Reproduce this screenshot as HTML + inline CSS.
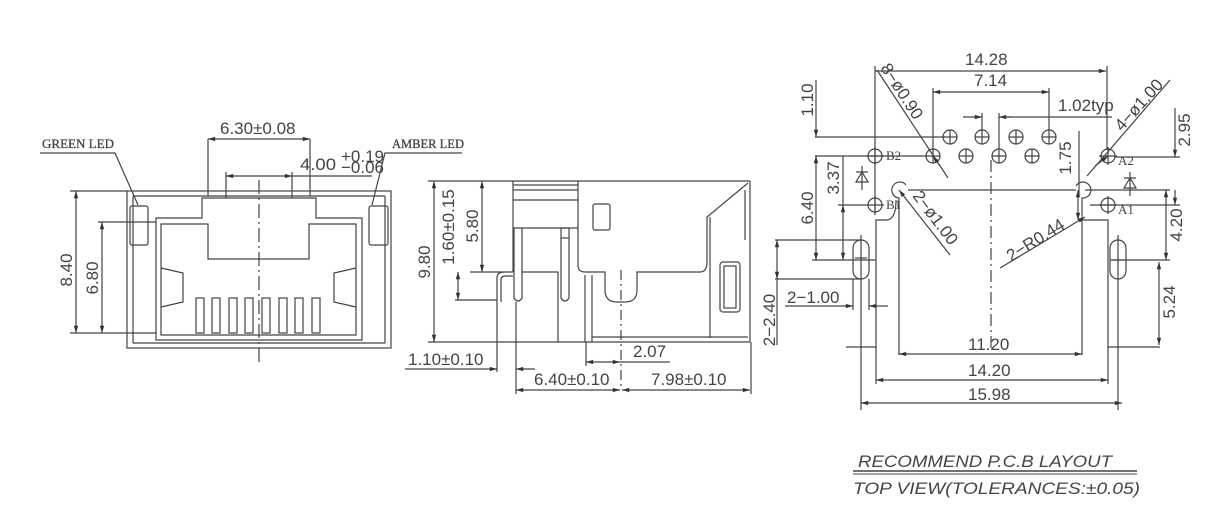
<!DOCTYPE html>
<html><head><meta charset="utf-8"><style>
html,body{margin:0;padding:0;background:#fff;}
svg{display:block;}
text{font-family:"Liberation Sans",sans-serif;fill:#444;font-size:17px;}
.s{font-family:"Liberation Serif",serif;font-size:13px;}
</style></head><body>
<svg width="1206" height="524" viewBox="0 0 1206 524" xmlns="http://www.w3.org/2000/svg">
<defs>
<marker id="a" viewBox="0 0 10 10" refX="10" refY="5" markerWidth="8" markerHeight="6" orient="auto-start-reverse"><path d="M0,2 L10,5 L0,8 z" fill="#333"/></marker>
</defs>
<g stroke="#444" stroke-width="1.2" fill="none">
<rect x="127" y="191" width="264" height="157"/>
<line x1="133" y1="196" x2="385" y2="196"/>
<line x1="133" y1="196" x2="133" y2="343"/><line x1="385" y1="196" x2="385" y2="343"/>
<line x1="133" y1="343" x2="385" y2="343"/>
<path d="M156,340 V218 H202 V198 H316 V218 H362 V340 Z"/>
<path d="M161,335 V224 H208 V259 H309 V224 H356 V335 Z"/>
<rect x="130" y="206" width="18" height="39" rx="2"/>
<rect x="369" y="206" width="19" height="39" rx="2"/>
<path d="M161,268 L183,273 V302 L161,307"/><path d="M356,268 L334,273 V302 L356,307"/>
<g>
<rect x="196" y="298" width="8" height="35"/><rect x="212" y="298" width="8" height="35"/>
<rect x="229" y="298" width="8" height="35"/><rect x="245" y="298" width="8" height="35"/>
<rect x="262" y="298" width="8" height="35"/><rect x="279" y="298" width="8" height="35"/>
<rect x="295" y="298" width="8" height="35"/><rect x="312" y="298" width="8" height="35"/>
</g>
<line x1="259" y1="180" x2="259" y2="362" stroke-dasharray="14,4,2,4"/>
<line x1="208" y1="139" x2="208" y2="196"/><line x1="310" y1="139" x2="310" y2="196"/>
<line x1="208" y1="139" x2="310" y2="139" marker-start="url(#a)" marker-end="url(#a)"/>
<line x1="226" y1="172" x2="226" y2="198"/><line x1="292" y1="172" x2="292" y2="198"/>
<line x1="226" y1="176" x2="292" y2="176" marker-start="url(#a)" marker-end="url(#a)"/>
<line x1="292" y1="176" x2="372" y2="176"/>
<line x1="70" y1="191" x2="127" y2="191"/><line x1="70" y1="333" x2="156" y2="333"/>
<line x1="76" y1="191" x2="76" y2="333" marker-start="url(#a)" marker-end="url(#a)"/>
<line x1="98" y1="222" x2="156" y2="222"/>
<line x1="102" y1="222" x2="102" y2="333" marker-start="url(#a)" marker-end="url(#a)"/>
<polyline points="40,153 115,153 138,205"/>
<polyline points="462,153 385,153 372,205"/>
<line x1="513" y1="181" x2="750" y2="181"/>
<line x1="750" y1="181" x2="750" y2="342"/>
<line x1="558" y1="342" x2="750" y2="342"/>
<line x1="592" y1="337" x2="748" y2="337"/>
<line x1="513" y1="181" x2="513" y2="272"/>
<line x1="578" y1="181" x2="578" y2="265"/>
<line x1="513" y1="185" x2="578" y2="185"/><line x1="513" y1="190" x2="578" y2="190"/>
<line x1="513" y1="200" x2="578" y2="200"/><line x1="513" y1="228" x2="578" y2="228"/>
<path d="M578,265 Q578,272 585,272 H605 V290 Q605,302 617,302 H625 Q637,302 637,290 V272 H700 Q707,272 707,262 V217 L748,183"/>
<line x1="710" y1="217" x2="710" y2="338"/>
<line x1="745" y1="190" x2="745" y2="240"/>
<rect x="593" y="204" width="17" height="26" rx="2"/>
<rect x="720" y="262" width="20" height="50" rx="3"/><rect x="724" y="266" width="12" height="42"/>
<rect x="561" y="228" width="8" height="10"/>
<path d="M561,238 V298 Q565,304 569,298 V238"/>
<path d="M514,228 V298 Q518,304 522,298 V228"/>
<path d="M470,272 H513"/><path d="M522,272 H558 V342"/>
<line x1="585" y1="275" x2="585" y2="342"/><line x1="592" y1="275" x2="592" y2="342"/>
<path d="M497,302 V278 Q497,272 504,272"/><path d="M501,302 V280 Q501,276 506,276 H513"/>
<line x1="621" y1="270" x2="621" y2="390" stroke-dasharray="10,4,2,4"/>
<line x1="428" y1="181" x2="513" y2="181"/><line x1="428" y1="342" x2="558" y2="342"/>
<line x1="434" y1="181" x2="434" y2="342" marker-start="url(#a)" marker-end="url(#a)"/>
<line x1="455" y1="300" x2="497" y2="300"/>
<line x1="458" y1="272" x2="458" y2="300" marker-start="url(#a)" marker-end="url(#a)"/>
<line x1="482" y1="181" x2="482" y2="272" marker-start="url(#a)" marker-end="url(#a)"/>
<line x1="497" y1="302" x2="497" y2="372"/><line x1="516" y1="302" x2="516" y2="394"/>
<line x1="405" y1="369" x2="497" y2="369" marker-end="url(#a)"/>
<line x1="535" y1="369" x2="516" y2="369" marker-end="url(#a)"/>
<line x1="586" y1="342" x2="586" y2="366"/>
<line x1="586" y1="362" x2="620" y2="362" marker-start="url(#a)" marker-end="url(#a)"/>
<line x1="620" y1="362" x2="670" y2="362"/>
<line x1="751" y1="342" x2="751" y2="394"/>
<line x1="516" y1="390" x2="620" y2="390" marker-start="url(#a)" marker-end="url(#a)"/>
<line x1="622" y1="390" x2="750" y2="390" marker-start="url(#a)" marker-end="url(#a)"/>
<line x1="875" y1="66" x2="875" y2="215"/><line x1="1107" y1="66" x2="1107" y2="150"/>
<line x1="875" y1="71" x2="1106" y2="71" marker-end="url(#a)"/>
<line x1="933" y1="88" x2="933" y2="150"/><line x1="1049" y1="88" x2="1049" y2="131"/>
<line x1="933" y1="92" x2="1049" y2="92" marker-start="url(#a)" marker-end="url(#a)"/>
<line x1="963" y1="117" x2="982" y2="117" marker-end="url(#a)"/>
<line x1="1012" y1="117" x2="999" y2="117" marker-end="url(#a)"/>
<line x1="982" y1="113" x2="982" y2="131"/><line x1="999" y1="113" x2="999" y2="150"/>
<line x1="999" y1="117" x2="1112" y2="117"/>
<g>
<circle cx="950" cy="137" r="7"/><circle cx="982" cy="137" r="7"/><circle cx="1016" cy="137" r="7"/><circle cx="1049" cy="137" r="7"/>
<circle cx="933" cy="156" r="7"/><circle cx="966" cy="156" r="7"/><circle cx="999" cy="156" r="7"/><circle cx="1032" cy="156" r="7"/>
<circle cx="875" cy="156" r="7"/><circle cx="1108" cy="156" r="7"/><circle cx="875" cy="205" r="7"/><circle cx="1108" cy="205" r="7"/>
</g>
<path d="M943,137h14M950,130v14M975,137h14M982,130v14M1009,137h14M1016,130v14M1042,137h14M1049,130v14M926,156h14M933,149v14M959,156h14M966,149v14M992,156h14M999,149v14M1025,156h14M1032,149v14M866,156h18M875,147v18M1099,156h18M1108,147v18M866,205h18M875,196v18M1099,205h18M1108,196v18"/>
<line x1="815" y1="137" x2="945" y2="137"/><line x1="815" y1="156" x2="927" y2="156"/>
<line x1="816" y1="80" x2="816" y2="137" marker-end="url(#a)"/>
<line x1="816" y1="156" x2="816" y2="260" marker-start="url(#a)" marker-end="url(#a)"/>
<line x1="843" y1="156" x2="843" y2="205"/>
<line x1="838" y1="205" x2="866" y2="205"/>
<line x1="843" y1="205" x2="843" y2="260" marker-start="url(#a)" marker-end="url(#a)"/>
<line x1="812" y1="260" x2="876" y2="260"/>
<path d="M908,190 H1076"/>
<path d="M906,185 A8,8 0 1 0 899,198 V355"/>
<path d="M1076,186 A8,8 0 1 1 1082,198 V355"/>
<path d="M896,200 Q896,220 886,220 H876 V347 H846"/>
<path d="M1082,220 H1108 V347 H1160"/>
<rect x="853" y="240" width="16" height="39" rx="8"/>
<rect x="1110" y="240" width="16" height="39" rx="8"/>
<line x1="861" y1="235" x2="861" y2="410"/><line x1="1118" y1="235" x2="1118" y2="410"/>
<line x1="855" y1="258" x2="867" y2="258"/><line x1="1112" y1="260" x2="1124" y2="260"/>
<line x1="991" y1="160" x2="991" y2="350" stroke-dasharray="12,4,2,4"/>
<path d="M856,182 h12 l-6,-10 z M856,172 h12 M862,166 v24"/>
<path d="M1124,188 h12 l-6,-10 z M1124,178 h12 M1130,172 v24"/>
<line x1="1115" y1="157" x2="1180" y2="157"/><line x1="1090" y1="205" x2="1180" y2="205"/>
<line x1="1175" y1="108" x2="1175" y2="157" marker-end="url(#a)"/>
<line x1="1175" y1="205" x2="1175" y2="190" marker-start="url(#a)"/>
<line x1="1085" y1="190" x2="1170" y2="190"/>
<line x1="1166" y1="190" x2="1166" y2="260" marker-start="url(#a)" marker-end="url(#a)"/>
<line x1="1110" y1="260" x2="1170" y2="260"/>
<line x1="1159" y1="262" x2="1159" y2="345" marker-start="url(#a)" marker-end="url(#a)"/>
<line x1="1078" y1="190" x2="1078" y2="220" marker-start="url(#a)" marker-end="url(#a)"/>
<line x1="1079" y1="131" x2="1079" y2="195"/>
<line x1="775" y1="240" x2="861" y2="240"/><line x1="775" y1="279" x2="861" y2="279"/>
<line x1="777" y1="240" x2="777" y2="279" marker-start="url(#a)" marker-end="url(#a)"/>
<line x1="777" y1="279" x2="777" y2="345"/>
<line x1="853" y1="279" x2="853" y2="310"/><line x1="869" y1="279" x2="869" y2="310"/>
<line x1="785" y1="306" x2="853" y2="306" marker-end="url(#a)"/>
<line x1="888" y1="306" x2="869" y2="306" marker-end="url(#a)"/>
<line x1="899" y1="354" x2="1082" y2="354" marker-start="url(#a)" marker-end="url(#a)"/>
<line x1="876" y1="347" x2="876" y2="384"/><line x1="1108" y1="347" x2="1108" y2="384"/>
<line x1="876" y1="380" x2="1108" y2="380" marker-start="url(#a)" marker-end="url(#a)"/>
<line x1="861" y1="403" x2="1122" y2="403" marker-start="url(#a)" marker-end="url(#a)"/>
<line x1="877" y1="70" x2="948" y2="178"/>
<line x1="940" y1="166" x2="933" y2="156" marker-end="url(#a)"/>
<line x1="950" y1="255" x2="899" y2="190" marker-end="url(#a)"/>
<line x1="1170" y1="80" x2="1087" y2="176"/>
<line x1="1095" y1="166" x2="1108" y2="156" marker-end="url(#a)"/>
<line x1="1000" y1="268" x2="1085" y2="217" marker-end="url(#a)"/>
<line x1="853" y1="471" x2="1137" y2="471" stroke-width="1.5"/>
<line x1="853" y1="474" x2="1137" y2="474" stroke-width="1"/>
</g>
<text x="42" y="148" class="s" font-size="14" textLength="72" lengthAdjust="spacingAndGlyphs" stroke="#444" stroke-width="0.3">GREEN LED</text>
<text x="392" y="148" class="s" font-size="14" textLength="72" lengthAdjust="spacingAndGlyphs" stroke="#444" stroke-width="0.3">AMBER LED</text>
<text x="220" y="134">6.30±0.08</text>
<text x="300" y="170" textLength="36" lengthAdjust="spacingAndGlyphs">4.00</text>
<text x="341" y="162" font-size="10">+0.19</text>
<text x="341" y="173" font-size="10">−0.06</text>
<text transform="translate(72,270) rotate(-90)" text-anchor="middle">8.40</text>
<text transform="translate(98,278) rotate(-90)" text-anchor="middle">6.80</text>
<text transform="translate(430,262) rotate(-90)" text-anchor="middle">9.80</text>
<text transform="translate(454,227) rotate(-90)" text-anchor="middle">1.60±0.15</text>
<text transform="translate(478,226) rotate(-90)" text-anchor="middle">5.80</text>
<text x="408" y="365">1.10±0.10</text>
<text x="633" y="357">2.07</text>
<text x="534" y="385">6.40±0.10</text>
<text x="651" y="385">7.98±0.10</text>
<text x="965" y="65">14.28</text>
<text x="974" y="86">7.14</text>
<text x="1058" y="111">1.02typ</text>
<text transform="translate(813,100) rotate(-90)" text-anchor="middle">1.10</text>
<text transform="translate(813,208) rotate(-90)" text-anchor="middle">6.40</text>
<text transform="translate(839,178) rotate(-90)" text-anchor="middle">3.37</text>
<text transform="translate(1071,158) rotate(-90)" text-anchor="middle">1.75</text>
<text transform="translate(1190,130) rotate(-90)" text-anchor="middle">2.95</text>
<text transform="translate(1182,225) rotate(-90)" text-anchor="middle">4.20</text>
<text transform="translate(1175,302) rotate(-90)" text-anchor="middle">5.24</text>
<text transform="translate(775,320) rotate(-90)" text-anchor="middle">2−2.40</text>
<text x="787" y="303">2−1.00</text>
<text x="968" y="350">11.20</text>
<text x="968" y="376">14.20</text>
<text x="968" y="400">15.98</text>
<text transform="translate(880,68) rotate(57)">8−ø0.90</text>
<text transform="translate(912,196) rotate(53)">2−ø1.00</text>
<text transform="translate(1011,262) rotate(-32)">2−R0.44</text>
<text transform="translate(1122,132) rotate(-48)">4−ø1.00</text>
<text class="s" font-size="10" x="886" y="160">B2</text>
<text class="s" font-size="10" x="886" y="209">B1</text>
<text class="s" font-size="10" x="1118" y="165">A2</text>
<text class="s" font-size="10" x="1118" y="214">A1</text>
<text x="858" y="467" font-style="italic" font-size="21" textLength="254" lengthAdjust="spacingAndGlyphs">RECOMMEND P.C.B LAYOUT</text>
<text x="853" y="494" font-style="italic" font-size="21" textLength="287" lengthAdjust="spacingAndGlyphs">TOP VIEW(TOLERANCES:±0.05)</text>
</svg>
</body></html>
